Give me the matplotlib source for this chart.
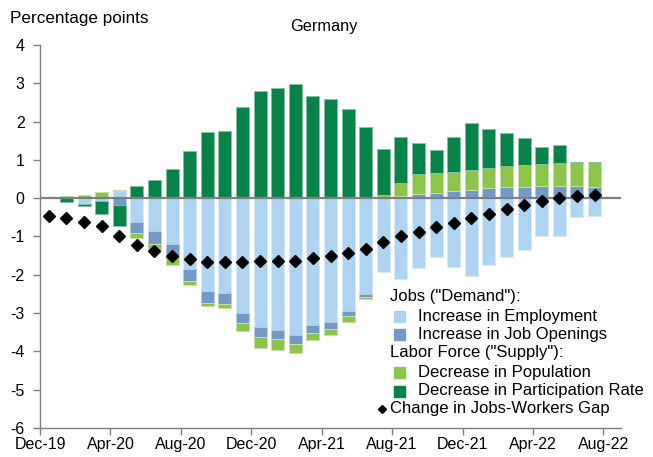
import matplotlib
matplotlib.use("Agg")
import matplotlib.pyplot as plt
import numpy as np
from matplotlib.patches import Rectangle
from matplotlib.lines import Line2D

plt.rcParams['font.family'] = ['Liberation Sans', 'DejaVu Sans']
plt.rcParams['axes.unicode_minus'] = False

# datos (32 meses, Dec-19 .. Jul-22)
empleo = [0.00, 0.07, -0.16, -0.07, 0.19, -0.62, -0.85, -1.20, -1.85, -2.42,
          -2.47, -2.99, -3.37, -3.43, -3.56, -3.30, -3.23, -2.94, -2.51, -1.93,
          -2.11, -1.83, -1.53, -1.79, -2.03, -1.74, -1.53, -1.34, -1.00, -0.99,
          -0.50, -0.47]
vacantes = [0.00, 0.00, 0.00, 0.00, -0.17, -0.29, -0.35, -0.32, -0.32, -0.32,
            -0.30, -0.27, -0.25, -0.25, -0.25, -0.21, -0.18, -0.14, -0.06, 0.02,
            0.07, 0.10, 0.14, 0.18, 0.22, 0.27, 0.29, 0.30, 0.31, 0.33,
            0.32, 0.29]
poblacion = [0.00, 0.00, 0.09, 0.16, 0.03, -0.13, -0.15, -0.22, -0.10, -0.08,
             -0.10, -0.22, -0.28, -0.28, -0.24, -0.19, -0.15, -0.14, -0.07, 0.07,
             0.32, 0.53, 0.53, 0.51, 0.52, 0.51, 0.54, 0.57, 0.59, 0.60,
             0.63, 0.66]
participacion = [0.00, -0.11, -0.05, -0.34, -0.56, 0.33, 0.47, 0.77, 1.24, 1.72,
                 1.76, 2.39, 2.81, 2.87, 2.98, 2.67, 2.58, 2.32, 1.86, 1.20,
                 1.22, 0.81, 0.59, 0.92, 1.23, 1.02, 0.87, 0.71, 0.44, 0.47,
                 0.00, 0.00]
brecha = [-0.46, -0.53, -0.61, -0.72, -1.00, -1.22, -1.39, -1.52, -1.59, -1.66,
          -1.66, -1.66, -1.65, -1.65, -1.64, -1.57, -1.52, -1.44, -1.32, -1.15,
          -1.00, -0.88, -0.76, -0.65, -0.51, -0.40, -0.27, -0.18, -0.07, 0.01,
          0.06, 0.08]
etiquetas = ["Dec-19", "Apr-20", "Aug-20", "Dec-20", "Apr-21", "Aug-21",
             "Dec-21", "Apr-22", "Aug-22"]

colores = ['#AED4F1', '#7399C6', '#8DC44A', '#07834A']
bordes = ['#D6EAF8', '#B5CCE3', '#C6E1A4', '#83C1A4']
series = [empleo, vacantes, poblacion, participacion]

fig = plt.figure(figsize=(6.53, 4.57), dpi=100)
ax = fig.add_axes([40/653, 1-428/457, 581/653, 383/457])

x = np.arange(len(empleo))
base_pos = np.zeros(len(x))
base_neg = np.zeros(len(x))
for vals, c, b in zip(series, colores, bordes):
    v = np.array(vals)
    bottom = np.where(v >= 0, base_pos, base_neg)
    ax.bar(x, v, bottom=bottom, width=0.74, color=c, edgecolor=b, linewidth=0.7, zorder=2)
    base_pos += np.where(v >= 0, v, 0)
    base_neg += np.where(v < 0, v, 0)

ax.axhline(0, color='#7F7F7F', linewidth=1.6, zorder=3)
ax.plot(x, brecha, linestyle='none', marker='D', markersize=6.5, color='black', zorder=4)

ax.set_xlim(-0.5, 32.5)
ax.set_ylim(-6, 4)
ax.set_yticks(range(-6, 5))
ax.set_xticks(np.arange(len(etiquetas)) * 4 - 0.5)
ax.set_xticklabels(etiquetas)
ax.tick_params(axis='both', labelsize=11.5, color='#7F7F7F', length=5, width=1)
ax.tick_params(axis='x', pad=1.5)
ax.tick_params(axis='y', pad=6)
for lado in ['top', 'right']:
    ax.spines[lado].set_visible(False)
for lado in ['left', 'bottom']:
    ax.spines[lado].set_color('#7F7F7F')
    ax.spines[lado].set_linewidth(1)

fig.text(10/653, 1-18/457, 'Percentage points', fontsize=12.3, va='center', ha='left')
fig.text(324/653, 1-27/457, 'Germany', fontsize=11.8, va='center', ha='center')

# leyenda a mano
def fx(px):
    return px / 653

def fy(py):
    return 1 - py / 457

tam = 12
fig.text(fx(390), fy(297), 'Jobs ("Demand"):', fontsize=tam, va='center')
fig.text(fx(390), fy(353), 'Labor Force ("Supply"):', fontsize=tam, va='center')
filas = [(316, 'Increase in Employment', colores[0]),
         (334, 'Increase in Job Openings', colores[1]),
         (372, 'Decrease in Population', colores[2]),
         (391, 'Decrease in Participation Rate', colores[3])]
for py, txt, c in filas:
    fig.add_artist(Rectangle((fx(394), fy(py + 5.5)), 11/653, 11/457,
                             transform=fig.transFigure, color=c))
    fig.text(fx(418), fy(py), txt, fontsize=tam, va='center')
fig.add_artist(Line2D([fx(382)], [fy(409)], marker='D', markersize=4.5, color='black',
                      linestyle='none', transform=fig.transFigure))
fig.text(fx(390), fy(409), 'Change in Jobs-Workers Gap', fontsize=tam, va='center')

fig.savefig('out.png', dpi=100)
